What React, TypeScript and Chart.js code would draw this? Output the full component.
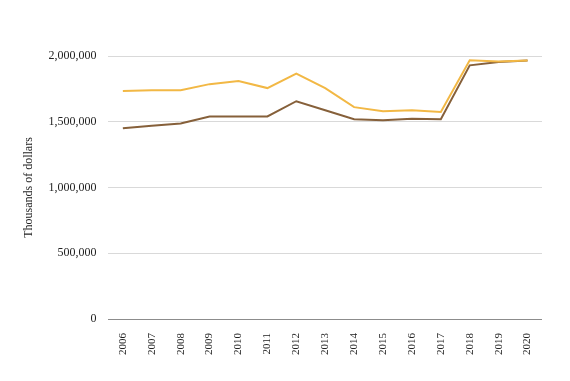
import React, { useEffect, useRef } from "react";
import { Chart, registerables } from "chart.js";

Chart.register(...registerables);

const years = ["2006","2007","2008","2009","2010","2011","2012","2013","2014","2015","2016","2017","2018","2019","2020"];
const upperSeries = [1733000,1740000,1740000,1786000,1809000,1756000,1866000,1756000,1611000,1580000,1588000,1575000,1967000,1958000,1966000];
const lowerSeries = [1450000,1470000,1486000,1540000,1540000,1540000,1656000,1588000,1519000,1511000,1523000,1519000,1929000,1954000,1966000];
const yTicks = [0, 500000, 1000000, 1500000, 2000000];

export default function App() {
  const ref = useRef<HTMLCanvasElement>(null);
  useEffect(() => {
    document.body.style.margin = "0";
    const font = { family: "'Liberation Serif', 'DejaVu Serif', serif", size: 11 };
    const chart = new Chart(ref.current!, {
      type: "line",
      data: {
        labels: years,
        datasets: [
          { label: "Upper", data: upperSeries, borderColor: "#F2B845", borderWidth: 2, pointRadius: 0, tension: 0, fill: false },
          { label: "Lower", data: lowerSeries, borderColor: "#86603A", borderWidth: 2, pointRadius: 0, tension: 0, fill: false },
        ],
      },
      options: {
        animation: false,
        responsive: false,
        maintainAspectRatio: false,
        layout: { padding: { left: 18, right: 28, top: 56, bottom: 12 } },
        plugins: { legend: { display: false }, tooltip: { enabled: false } },
        scales: {
          x: {
            offset: true,
            grid: { display: false, drawTicks: false },
            border: { display: false },
            ticks: { color: "#222", font, maxRotation: 90, minRotation: 90, padding: 14 },
          },
          y: {
            min: 0,
            max: 2000000,
            afterBuildTicks: (axis: any) => { axis.ticks = yTicks.map((v) => ({ value: v })); },
            grid: { color: (ctx: any) => (ctx.tick && ctx.tick.value === 0 ? "#8c8c8c" : "#d9d9d9"), lineWidth: 1, drawTicks: false },
            border: { display: false },
            title: { display: true, text: "Thousands of dollars", color: "#222", font: { ...font, size: 12 }, padding: { top: 4, bottom: 0 } },
            ticks: {
              color: "#222",
              font: { ...font, size: 12 },
              padding: 12,
              callback: (v: any) => Number(v).toLocaleString("en-US"),
            },
          },
        },
      },
    });
    return () => chart.destroy();
  }, []);
  return (
    <div style={{ width: 570, height: 381, background: "#fff" }}>
      <canvas ref={ref} width={570} height={381} />
    </div>
  );
}
